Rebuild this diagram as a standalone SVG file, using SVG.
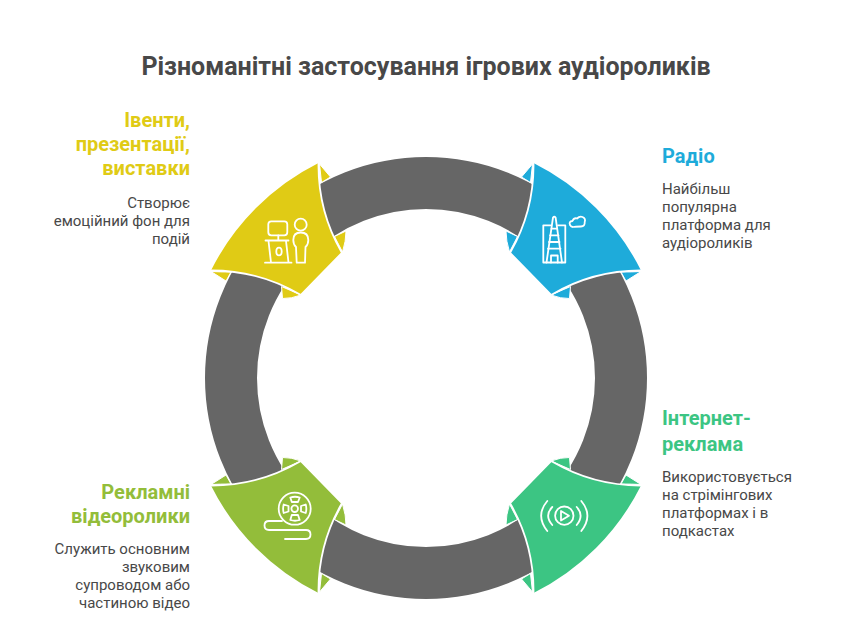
<svg xmlns="http://www.w3.org/2000/svg" width="852" height="632" viewBox="0 0 852 632">
<defs>
<style>
text{font-family:Roboto,"Liberation Sans",sans-serif}
.t{font-size:25px;font-weight:700;fill:#484848}
.h{font-size:20px;font-weight:700}
.b{font-size:15px;fill:#484848}
.e{text-anchor:end}
.y{fill:#e0cb15}.bl{fill:#1eabda}.g{fill:#3cc583}.l{fill:#93bd3a}
.w{fill:none;stroke:#fff;stroke-width:1.8;stroke-linecap:round;stroke-linejoin:round}
.p{stroke:#fff;stroke-width:1}
</style>
<g id="seg">
<path class="p" d="M319.500 164 L330.500 177 L321.500 182.500Z"/>
<path class="p" d="M334.500 236.500 L346 231 Q346 241 342.500 252Z"/>
<path class="p" d="M281.500 286.500 L301 295 Q291 298.800 282.500 298.500Z"/>
<path class="p" d="M211 271.500 Q220 272 231 272 L226 281Z"/>
<path d="M318.500 163 A240 240 0 0 0 211 270.500 A175 175 0 0 1 300 294.500 L341.500 252 A175 175 0 0 1 318.500 163Z"/>
<path class="w" d="M211 270.500 A175 175 0 0 1 300 294.500 M341.500 252 A175 175 0 0 1 318.500 163"/>
</g>
</defs>
<rect width="852" height="632" fill="#fff"/>
<text class="t" x="426" y="75" text-anchor="middle">Різноманітні застосування ігрових аудіороликів</text>
<g id="connectors"><circle cx="426" cy="378" r="195" fill="none" stroke="#666" stroke-width="52"/></g>
<g id="node-events">
<use href="#seg" class="y"/>
<g class="w">
<rect x="268.300" y="221.300" width="19" height="14" rx="3"/>
<path d="M278.300 235.500V240.300M275 240.300H281.500M265.500 240.500H288.500M268.500 241L271 262.500M286 241L288.500 262.500M265 262.700H291.500"/>
<ellipse cx="279" cy="251.500" rx="2.700" ry="3.800"/>
<circle cx="300.700" cy="224.700" r="6"/>
<path d="M296.700 262.700 L296 247 Q293.300 244.500 293.300 240 Q293.300 232.500 300.700 232.500 Q308.300 232.500 308.300 240 Q308.300 244.500 305.500 247 L305 262.700Z"/>
</g>
<text class="h y e" x="190" y="127">Івенти,</text>
<text class="h y e" x="190" y="151">презентації,</text>
<text class="h y e" x="190" y="175">виставки</text>
<text class="b e" x="190" y="208">Створює</text>
<text class="b e" x="190" y="226">емоційний фон для</text>
<text class="b e" x="190" y="244">подій</text>
</g>
<g id="node-radio">
<use href="#seg" class="bl" transform="matrix(-1 0 0 1 852 0)"/>
<g class="w">
<path d="M553 217.500 Q554.300 216 555.600 217.500 L562 262.500 H546.500 Z"/>
<path d="M550.500 225.300H543.300V262.500H546.500M558 225.300H565.300V262.500H562M551.500 228.700H557M550 235.300H558.500M549 242H559.500M548 248.700H560.500M551 262.500V255.500H557.700V262.500"/>
<path d="M570 225 Q568.500 221.500 572.500 221 Q574 217.500 577 218.500 Q579.500 216 582.500 217 Q586 218.500 584.700 222 Q585 226.500 581 226.500 Q575 226.500 573 227 Q571 227 570 225Z"/>
</g>
<text class="h bl" x="662" y="163">Радіо</text>
<text class="b" x="662" y="194">Найбільш</text>
<text class="b" x="662" y="212">популярна</text>
<text class="b" x="662" y="230">платформа для</text>
<text class="b" x="662" y="248">аудіороликів</text>
</g>
<g id="node-internet">
<use href="#seg" class="g" transform="matrix(-1 0 0 -1 852 756)"/>
<g class="w">
<circle cx="564.300" cy="515.700" r="9.200"/>
<path d="M561 511V520.500L569 515.700Z"/>
<path d="M547.300 501 Q535 515.500 547.300 531M552.300 507 Q544 515.500 552.300 525M581.300 501 Q593.500 515.500 581.300 531M576.700 507 Q584.500 515.500 576.700 525"/>
</g>
<text class="h g" x="662" y="425">Інтернет-</text>
<text class="h g" x="662" y="451">реклама</text>
<text class="b" x="662" y="482">Використовується</text>
<text class="b" x="662" y="500">на стрімінгових</text>
<text class="b" x="662" y="518">платформах і в</text>
<text class="b" x="662" y="536">подкастах</text>
</g>
<g id="node-video">
<use href="#seg" class="l" transform="matrix(1 0 0 -1 0 756)"/>
<g class="w">
<circle cx="294.700" cy="508.700" r="16"/>
<circle cx="294.700" cy="508.700" r="3.300"/>
<path d="M290.300 497.500Q295 496 299.700 497.500L298 502H291.800ZM290.300 520Q295 521.500 299.700 520L298 515H291.800ZM283.700 504.500Q282.500 508.700 283.700 513L288.500 511.500V506ZM305.700 504.500Q307 508.700 305.700 513L301 511.500V506Z"/>
<path d="M282 521H269 Q264.500 521 264.500 525.500 Q264.500 530 269 530 H306 Q310.500 530 310.500 534.500 Q310.500 539 306 539 H285"/>
</g>
<text class="h l e" x="190" y="499">Рекламні</text>
<text class="h l e" x="190" y="523">відеоролики</text>
<text class="b e" x="190" y="554">Служить основним</text>
<text class="b e" x="190" y="572">звуковим</text>
<text class="b e" x="190" y="590">супроводом або</text>
<text class="b e" x="190" y="608">частиною відео</text>
</g>
</svg>
